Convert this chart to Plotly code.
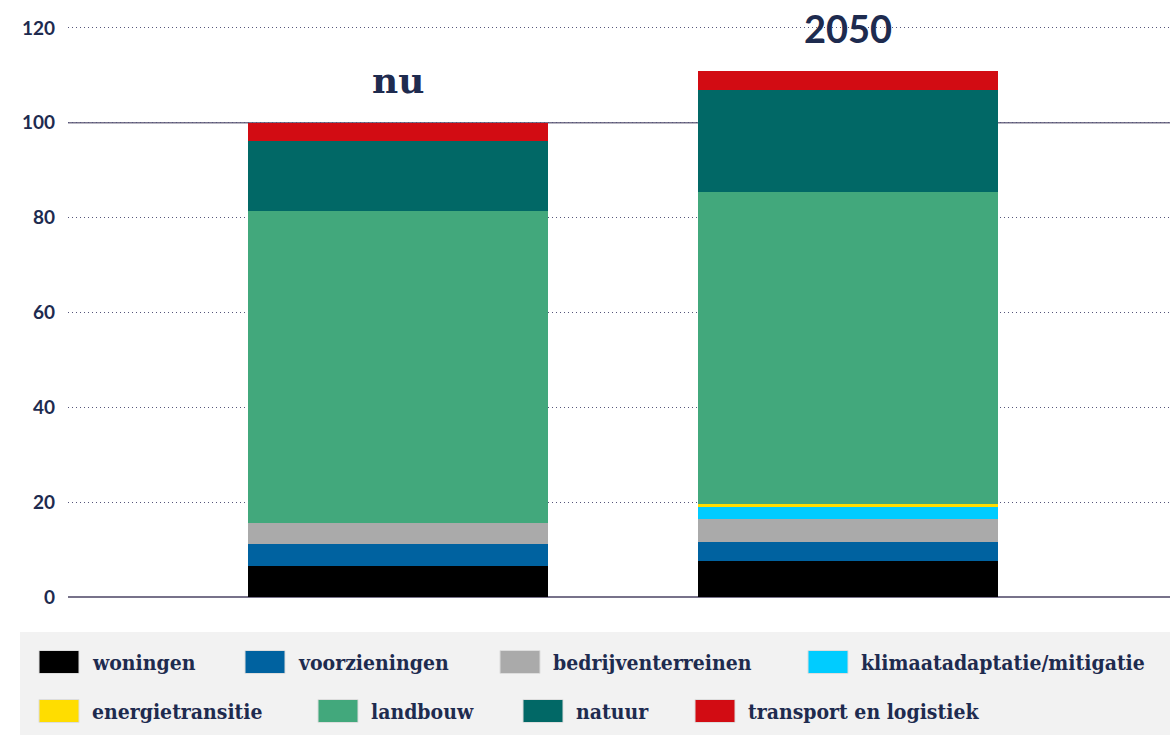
import plotly.graph_objects as go

categories = ["nu", "2050"]
series_names = ["woningen", "voorzieningen", "bedrijventerreinen", "klimaatadaptatie/mitigatie",
                "energietransitie", "landbouw", "natuur", "transport en logistiek"]
values_nu = [6.5, 4.7, 4.4, 0.0, 0.0, 65.8, 14.8, 3.8]
values_2050 = [7.6, 4.0, 4.9, 2.5, 0.6, 65.8, 21.6, 4.0]
colors = ["#000000", "#0062a0", "#aaaaaa", "#00ccff", "#ffdd00", "#42a87c", "#016866", "#d20c13"]
y_ticks = [0, 20, 40, 60, 80, 100, 120]

NAVY = "#1e2b4f"
W, H = 1170, 735
L, R, T, B = 68, 0, 26, 138
PW, PH = W - L - R, H - T - B
YMAX = 120.42

def px(x):
    return (x - L) / PW

def py(y):
    return (H - B - y) / PH

fig = go.Figure()
for i, name in enumerate(series_names):
    fig.add_trace(go.Bar(
        x=categories, y=[values_nu[i], values_2050[i]], name=name,
        marker=dict(color=colors[i], line=dict(width=0)),
        showlegend=False,
    ))

shapes = []
annotations = []
# reference line at 100
shapes.append(dict(type="line", xref="paper", yref="y", x0=0, x1=1, y0=100, y1=100,
                   line=dict(color="#77728a", width=1.5), layer="below"))
# legend background
shapes.append(dict(type="rect", xref="paper", yref="paper", x0=px(20), x1=px(1175),
                   y0=py(735), y1=py(632), fillcolor="#f2f2f2", line=dict(width=0), layer="below"))

legend_pos = [(39, 662), (245, 662), (500, 662), (808, 662),
              (39, 711), (318, 711), (523, 711), (695, 711)]
for (x0, yc), name, c in zip(legend_pos, series_names, colors):
    shapes.append(dict(type="rect", xref="paper", yref="paper", x0=px(x0), x1=px(x0 + 40),
                       y0=py(yc + 11.5), y1=py(yc - 11.5), fillcolor=c,
                       line=dict(color="#dddddd", width=1)))
    annotations.append(dict(text=name, xref="paper", yref="paper", x=px(x0 + 51), y=py(yc),
                            xanchor="left", yanchor="middle", showarrow=False,
                            font=dict(family="DejaVu Serif Condensed, DejaVu Serif", size=21,
                                      color=NAVY, weight="bold")))

# bar labels
annotations.append(dict(text="<b>nu</b>", x=0, y=py(80) * YMAX, xref="x", yref="y",
                        showarrow=False, xanchor="center", yanchor="middle",
                        font=dict(family="DejaVu Serif", size=36, color=NAVY)))
annotations.append(dict(text="<b>2050</b>", x=1, y=py(28) * YMAX, xref="x", yref="y",
                        showarrow=False, xanchor="center", yanchor="middle",
                        font=dict(family="Lato", size=38, color=NAVY)))

fig.update_layout(
    width=W, height=H,
    margin=dict(l=L, r=R, t=T, b=B, pad=0),
    barmode="stack", bargap=0.333,
    plot_bgcolor="white", paper_bgcolor="white",
    shapes=shapes, annotations=annotations,
    showlegend=False,
    xaxis=dict(type="category", range=[-0.733, 1.716], showticklabels=False, showgrid=False,
               zeroline=False, showline=False, ticks=""),
    yaxis=dict(range=[0, YMAX], tickvals=y_ticks, showgrid=True, gridcolor="#55557a",
               griddash="1px,3px", gridwidth=1, zeroline=True, zerolinecolor="#77728a",
               zerolinewidth=2, showline=False, ticks="", ticklabelstandoff=12,
               tickfont=dict(family="Lato", size=19, color=NAVY, weight="bold")),
)

fig.write_html("out.html")
